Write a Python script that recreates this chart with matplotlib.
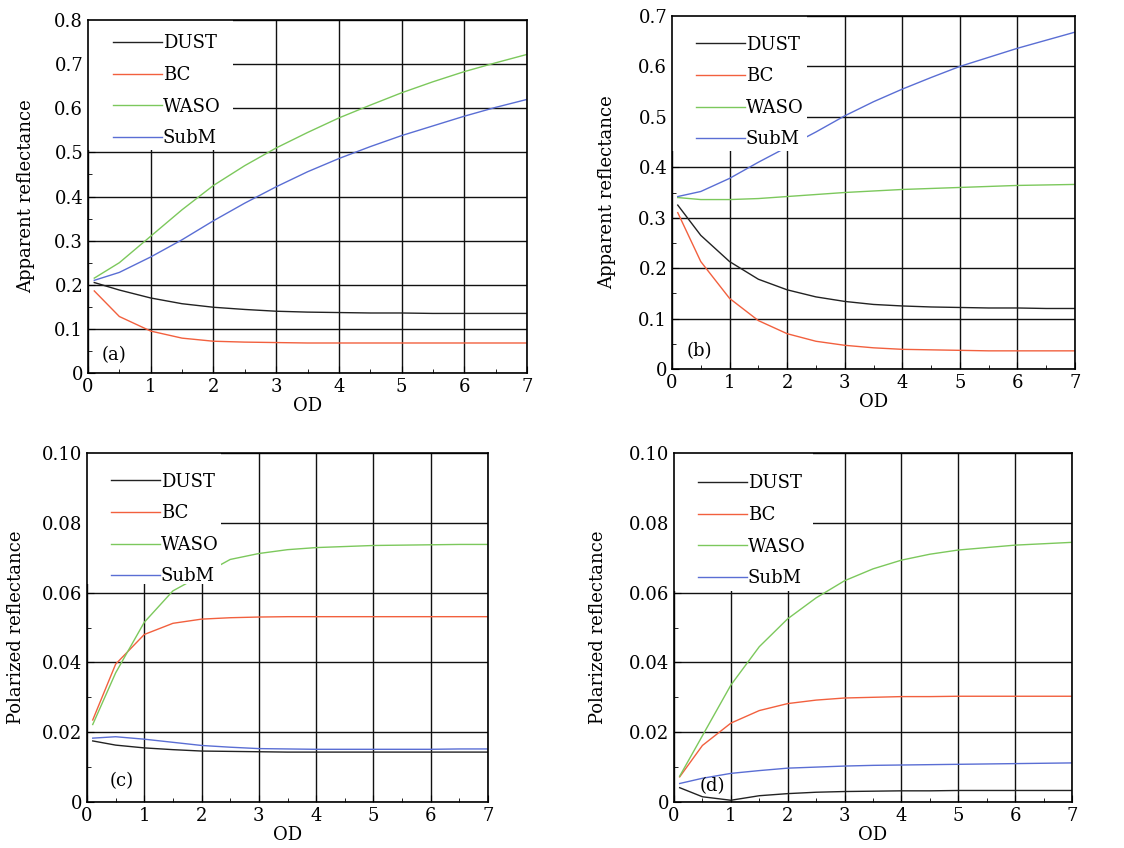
import numpy as np
import matplotlib
matplotlib.use("Agg")
import matplotlib.pyplot as plt
from matplotlib.patches import Rectangle
from matplotlib.ticker import MultipleLocator, FuncFormatter

plt.rcParams.update({
    "font.family": "serif",
    "font.serif": ["DejaVu Serif"],
    "font.size": 13,
    "xtick.direction": "in",
    "ytick.direction": "in",
})

names = ["DUST", "BC", "WASO", "SubM"]
colors = ["#222222", "#f2603e", "#7cc85c", "#5a6ed4"]

# (a) apparent reflectance
od_a = [0.1, 0.5, 1, 1.5, 2, 2.5, 3, 3.5, 4, 4.5, 5, 5.5, 6, 6.5, 7]
dust_a = [0.205, 0.188, 0.170, 0.157, 0.149, 0.144, 0.140, 0.138, 0.137, 0.136, 0.136, 0.135, 0.135, 0.135, 0.135]
bc_a = [0.186, 0.128, 0.095, 0.079, 0.072, 0.070, 0.069, 0.068, 0.068, 0.068, 0.068, 0.068, 0.068, 0.068, 0.068]
waso_a = [0.215, 0.250, 0.310, 0.370, 0.425, 0.470, 0.510, 0.545, 0.578, 0.607, 0.635, 0.660, 0.683, 0.703, 0.722]
subm_a = [0.210, 0.228, 0.263, 0.302, 0.345, 0.385, 0.422, 0.456, 0.486, 0.513, 0.538, 0.560, 0.582, 0.602, 0.620]

# (b) apparent reflectance
od_b = [0.1, 0.5, 1, 1.5, 2, 2.5, 3, 3.5, 4, 4.5, 5, 5.5, 6, 6.5, 7]
dust_b = [0.325, 0.265, 0.213, 0.178, 0.157, 0.143, 0.134, 0.128, 0.125, 0.123, 0.122, 0.121, 0.121, 0.120, 0.120]
bc_b = [0.310, 0.213, 0.140, 0.096, 0.070, 0.055, 0.047, 0.042, 0.039, 0.038, 0.037, 0.036, 0.036, 0.036, 0.036]
waso_b = [0.340, 0.336, 0.336, 0.338, 0.342, 0.346, 0.350, 0.353, 0.356, 0.358, 0.360, 0.362, 0.364, 0.365, 0.366]
subm_b = [0.342, 0.352, 0.378, 0.410, 0.440, 0.470, 0.502, 0.530, 0.555, 0.578, 0.600, 0.618, 0.636, 0.652, 0.668]

# (c) polarized reflectance
od_c = [0.1, 0.5, 1, 1.5, 2, 2.5, 3, 3.5, 4, 4.5, 5, 5.5, 6, 6.5, 7]
dust_c = [0.0175, 0.0163, 0.0155, 0.0150, 0.0146, 0.0145, 0.0144, 0.0143, 0.0143, 0.0143, 0.0143, 0.0143, 0.0143, 0.0143, 0.0143]
bc_c = [0.0235, 0.0395, 0.0480, 0.0512, 0.0524, 0.0528, 0.0530, 0.0531, 0.0531, 0.0531, 0.0531, 0.0531, 0.0531, 0.0531, 0.0531]
waso_c = [0.0222, 0.0370, 0.0515, 0.0605, 0.0650, 0.0695, 0.0712, 0.0723, 0.0729, 0.0732, 0.0735, 0.0736, 0.0737, 0.0738, 0.0738]
subm_c = [0.0183, 0.0187, 0.0180, 0.0171, 0.0162, 0.0157, 0.0153, 0.0152, 0.0151, 0.0151, 0.0151, 0.0151, 0.0151, 0.0152, 0.0152]

# (d) polarized reflectance
od_d = [0.1, 0.5, 1, 1.5, 2, 2.5, 3, 3.5, 4, 4.5, 5, 5.5, 6, 6.5, 7]
dust_d = [0.0041, 0.0015, 0.0005, 0.0018, 0.0024, 0.0028, 0.0030, 0.0031, 0.0032, 0.0032, 0.0033, 0.0033, 0.0033, 0.0033, 0.0033]
bc_d = [0.0072, 0.0162, 0.0226, 0.0262, 0.0282, 0.0292, 0.0298, 0.0300, 0.0302, 0.0302, 0.0303, 0.0303, 0.0303, 0.0303, 0.0303]
waso_d = [0.0074, 0.0190, 0.0335, 0.0445, 0.0525, 0.0585, 0.0634, 0.0668, 0.0693, 0.0710, 0.0722, 0.0729, 0.0736, 0.0740, 0.0744]
subm_d = [0.0053, 0.0068, 0.0082, 0.0090, 0.0097, 0.0100, 0.0103, 0.0105, 0.0106, 0.0107, 0.0108, 0.0109, 0.0110, 0.0111, 0.0112]


def panel(ax, od, series, ymax, ymaj, ylabel, ypad, tag, tagpos, cover, legy):
    ax.set_xlim(0, 7)
    ax.set_ylim(0, ymax)
    ax.xaxis.set_major_locator(MultipleLocator(1))
    ax.xaxis.set_minor_locator(MultipleLocator(0.5))
    ax.yaxis.set_major_locator(MultipleLocator(ymaj))
    ax.yaxis.set_minor_locator(MultipleLocator(ymaj / 2))
    ax.tick_params(which="major", length=5)
    ax.tick_params(which="minor", length=3)
    ax.grid(True, which="major", color="#111111", lw=1.0, zorder=0)
    ax.set_axisbelow(True)
    handles = []
    for ys, name, c in zip(series, names, colors):
        h, = ax.plot(od, ys, color=c, lw=1.0, label=name, zorder=2)
        handles.append(h)
    # white box behind the legend hides grid (and parts of curves)
    ax.add_patch(Rectangle((0, cover[1]), cover[0], 1 - cover[1], transform=ax.transAxes,
                           facecolor="white", edgecolor="none", zorder=3))
    leg = ax.legend(handles=handles, loc="upper left", bbox_to_anchor=(0.02, legy),
                    frameon=False, handlelength=2.7, handletextpad=0.05,
                    labelspacing=0.75, fontsize=13)
    leg.set_zorder(4)
    ax.text(tagpos[0], tagpos[1], tag, fontsize=13, zorder=5)
    ax.set_xlabel("OD", labelpad=1)
    ax.set_ylabel(ylabel, labelpad=ypad)
    for s in ax.spines.values():
        s.set_linewidth(1.2)
        s.set_zorder(6)


fig = plt.figure(figsize=(11.24, 8.48), dpi=100)
W, H = 1124, 848
ax_a = fig.add_axes([88 / W, 1 - 373 / H, 439 / W, 353 / H])
ax_b = fig.add_axes([672 / W, 1 - 369 / H, 403 / W, 353 / H])
ax_c = fig.add_axes([87 / W, 1 - 802 / H, 401 / W, 349 / H])
ax_d = fig.add_axes([674 / W, 1 - 802 / H, 398 / W, 349 / H])

fa = FuncFormatter(lambda v, p: "0" if abs(v) < 1e-12 else f"{v:.1f}")
fc = FuncFormatter(lambda v, p: "0" if abs(v) < 1e-12 else f"{v:.2f}")

panel(ax_a, od_a, [dust_a, bc_a, waso_a, subm_a], 0.8, 0.1, "Apparent reflectance", 14,
      "(a)", (0.22, 0.03), (0.33, 0.632), 1.005)
panel(ax_b, od_b, [dust_b, bc_b, waso_b, subm_b], 0.7, 0.1, "Apparent reflectance", 16,
      "(b)", (0.25, 0.025), (0.335, 0.617), 0.99)
panel(ax_c, od_c, [dust_c, bc_c, waso_c, subm_c], 0.10, 0.02, "Polarized reflectance", 12,
      "(c)", (0.4, 0.0045), (0.333, 0.625), 0.99)
panel(ax_d, od_d, [dust_d, bc_d, waso_d, subm_d], 0.10, 0.02, "Polarized reflectance", 16,
      "(d)", (0.45, 0.003), (0.35, 0.605), 0.985)

ax_a.yaxis.set_major_formatter(fa)
ax_b.yaxis.set_major_formatter(fa)
ax_c.yaxis.set_major_formatter(fc)
ax_d.yaxis.set_major_formatter(fc)

fig.savefig("out.png", dpi=100)
